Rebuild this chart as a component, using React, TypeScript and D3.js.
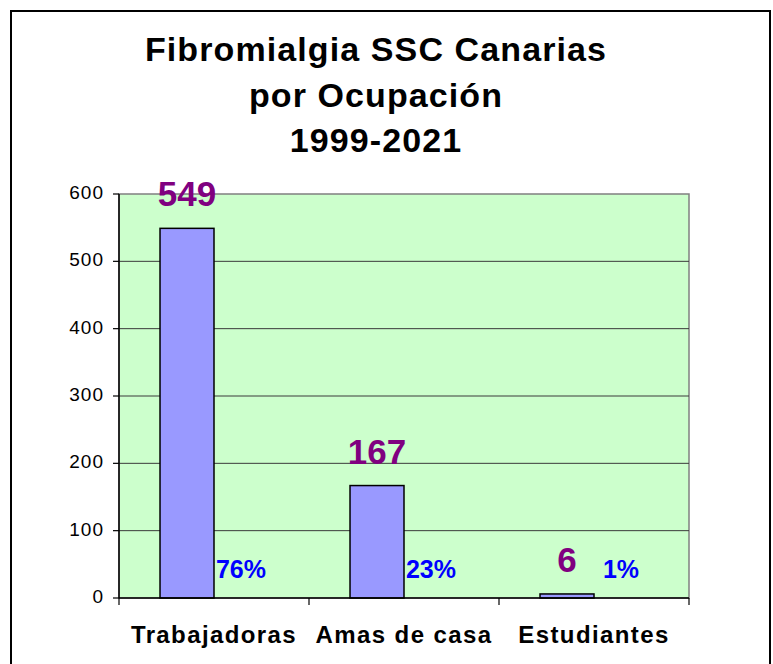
import React, {useEffect, useRef} from "react";
import * as d3 from "d3";

const categories = ["Trabajadoras", "Amas de casa", "Estudiantes"];
const counts = [549, 167, 6];
const percents = ["76%", "23%", "1%"];
const yTicks = [0, 100, 200, 300, 400, 500, 600];
const titleLines = ["Fibromialgia SSC Canarias", "por Ocupación", "1999-2021"];

const FONT = "'Liberation Sans', Arial, sans-serif";

export default function App() {
    const ref = useRef<SVGSVGElement | null>(null);

    useEffect(() => {
        const size = {width: 773, height: 664};
        const plot = {left: 119, right: 689, top: 194, bottom: 598};

        const svg = d3.select(ref.current);
        svg.selectAll("*").remove();

        svg.append("rect")
            .attr("width", size.width)
            .attr("height", size.height)
            .attr("fill", "#fff");

        // outer chart frame
        svg.append("rect")
            .attr("x", 11)
            .attr("y", 11)
            .attr("width", 759)
            .attr("height", 690)
            .attr("fill", "none")
            .attr("stroke", "#000")
            .attr("stroke-width", 2);

        svg.append("g")
            .selectAll("text")
            .data(titleLines)
            .enter()
            .append("text")
            .attr("x", 376)
            .attr("y", (d, i) => 61 + i * 45.5)
            .attr("text-anchor", "middle")
            .attr("font-family", FONT)
            .attr("font-weight", "bold")
            .attr("font-size", 34)
            .attr("letter-spacing", 1.1)
            .text(d => d);

        const x = d3.scaleBand<string>()
            .domain(categories)
            .range([plot.left, plot.right]);
        const inner = d3.scaleBand<string>()
            .domain(["count", "pct"])
            .range([0, x.bandwidth()])
            .paddingOuter(0.76);
        const y = d3.scaleLinear()
            .domain([0, 600])
            .range([plot.bottom, plot.top]);

        svg.append("rect")
            .attr("x", plot.left)
            .attr("y", plot.top)
            .attr("width", plot.right - plot.left)
            .attr("height", plot.bottom - plot.top)
            .attr("fill", "#ccffcc")
            .attr("stroke", "#808080")
            .attr("stroke-width", 1.5);

        svg.append("g")
            .selectAll("line")
            .data(yTicks.slice(1, -1))
            .enter()
            .append("line")
            .attr("x1", plot.left)
            .attr("x2", plot.right)
            .attr("y1", d => y(d))
            .attr("y2", d => y(d))
            .attr("stroke", "#3a3a3a")
            .attr("stroke-width", 1);

        svg.append("g")
            .selectAll("rect")
            .data(counts)
            .enter()
            .append("rect")
            .attr("x", (d, i) => x(categories[i])! + inner("count")!)
            .attr("y", d => y(d))
            .attr("width", inner.bandwidth())
            .attr("height", d => y(0) - y(d))
            .attr("fill", "#9999ff")
            .attr("stroke", "#000")
            .attr("stroke-width", 1.5);

        // y axis
        const yAxis = svg.append("g");
        yAxis.append("line")
            .attr("x1", plot.left).attr("x2", plot.left)
            .attr("y1", plot.top).attr("y2", plot.bottom)
            .attr("stroke", "#000").attr("stroke-width", 1.5);
        yAxis.selectAll(".tick")
            .data(yTicks)
            .enter()
            .append("line")
            .attr("x1", plot.left - 6).attr("x2", plot.left)
            .attr("y1", d => y(d)).attr("y2", d => y(d))
            .attr("stroke", "#000").attr("stroke-width", 1.2);
        yAxis.selectAll("text")
            .data(yTicks)
            .enter()
            .append("text")
            .attr("x", 104)
            .attr("y", d => y(d) + 5)
            .attr("text-anchor", "end")
            .attr("font-family", FONT)
            .attr("font-size", 19)
            .attr("letter-spacing", 1)
            .text(d => d);

        // x axis
        const xAxis = svg.append("g");
        xAxis.append("line")
            .attr("x1", plot.left).attr("x2", plot.right)
            .attr("y1", plot.bottom).attr("y2", plot.bottom)
            .attr("stroke", "#000").attr("stroke-width", 1.5);
        xAxis.selectAll(".tick")
            .data([...categories.map(c => x(c)!), plot.right])
            .enter()
            .append("line")
            .attr("x1", d => d).attr("x2", d => d)
            .attr("y1", plot.bottom).attr("y2", plot.bottom + 7)
            .attr("stroke", "#000").attr("stroke-width", 1.2);
        xAxis.selectAll("text")
            .data(categories)
            .enter()
            .append("text")
            .attr("x", d => x(d)! + x.bandwidth() / 2)
            .attr("y", 643)
            .attr("text-anchor", "middle")
            .attr("font-family", FONT)
            .attr("font-weight", "bold")
            .attr("font-size", 24)
            .attr("letter-spacing", 1.4)
            .text(d => d);

        // value labels
        svg.append("g")
            .selectAll("text")
            .data(counts)
            .enter()
            .append("text")
            .attr("x", (d, i) => x(categories[i])! + inner("count")! + inner.bandwidth() / 2)
            .attr("y", d => y(d) - 22)
            .attr("text-anchor", "middle")
            .attr("font-family", FONT)
            .attr("font-weight", "bold")
            .attr("font-size", 35)
            .attr("fill", "#800080")
            .text(d => d);

        svg.append("g")
            .selectAll("text")
            .data(percents)
            .enter()
            .append("text")
            .attr("x", (d, i) => x(categories[i])! + inner("pct")! + inner.bandwidth() / 2)
            .attr("y", y(0) - 20)
            .attr("text-anchor", "middle")
            .attr("font-family", FONT)
            .attr("font-weight", "bold")
            .attr("font-size", 25)
            .attr("fill", "#0000ff")
            .text(d => d);
    }, []);

    return <svg ref={ref} width={773} height={664}
                style={{position: "absolute", left: 0, top: 0, display: "block"}}/>;
}
